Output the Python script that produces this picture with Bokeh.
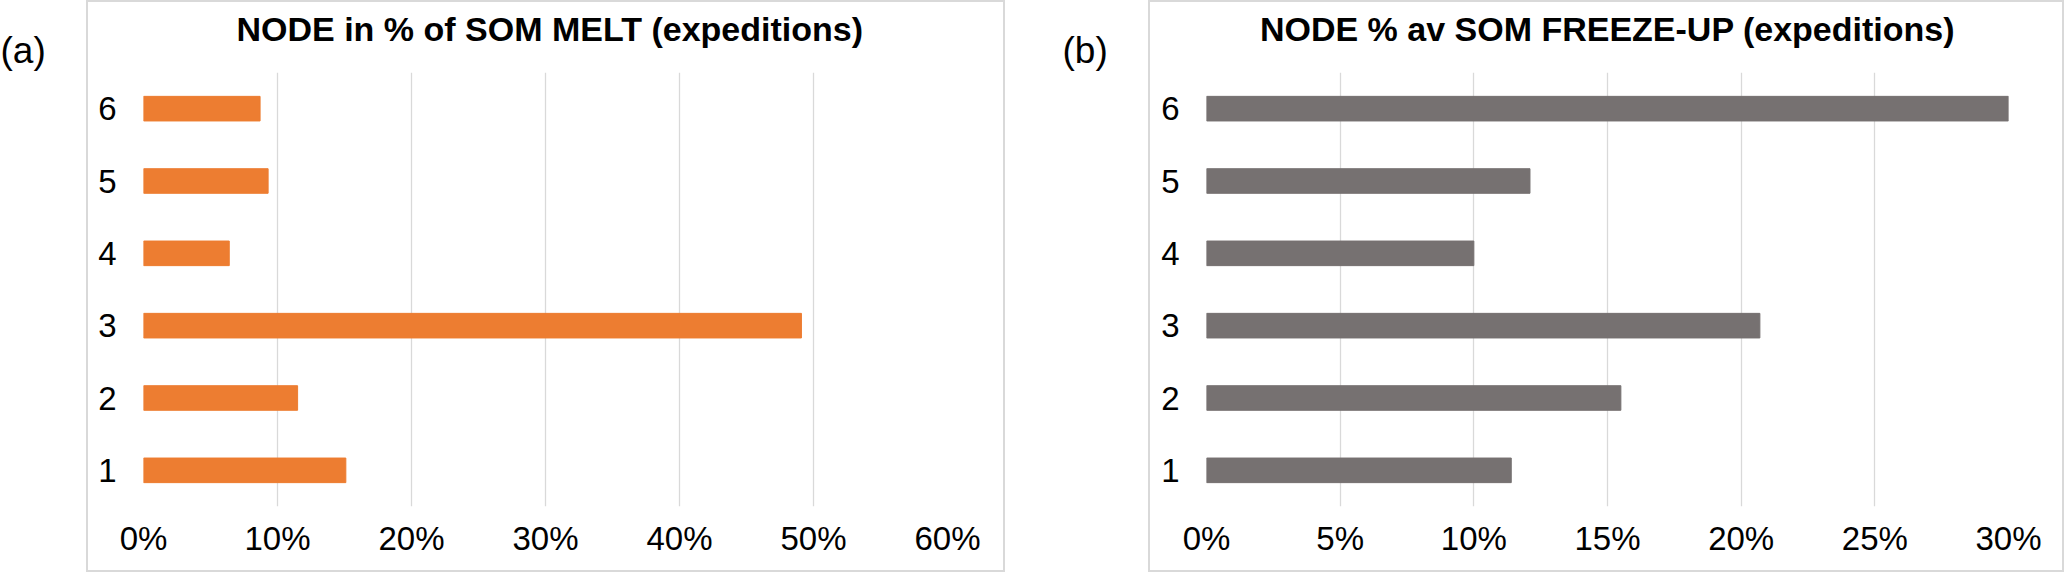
from bokeh.plotting import figure
from bokeh.models import (ColumnDataSource, Range1d, FixedTicker, NumeralTickFormatter,
                          LinearAxis, Title)
from bokeh.layouts import row
from bokeh.embed import file_html
from bokeh.resources import INLINE

# ---- data ----
nodes = ["1", "2", "3", "4", "5", "6"]
melt_share = [0.151, 0.115, 0.491, 0.064, 0.093, 0.087]
freeze_share = [0.114, 0.155, 0.207, 0.100, 0.121, 0.300]
melt_ticks = [0.0, 0.1, 0.2, 0.3, 0.4, 0.5, 0.6]
freeze_ticks = [0.0, 0.05, 0.10, 0.15, 0.20, 0.25, 0.30]
titles = ["NODE in % of  SOM MELT (expeditions)", "NODE % av SOM FREEZE-UP (expeditions)"]
panel_tags = ["(a)", "(b)"]
bar_colors = ["#ED7D31", "#767171"]

FONT = "Liberation Sans"
PH = 568          # panel element height (plus 2px margin each side)
TAG_H = 572
BORDER = "#d9d9d9"


def panel(title, values, ticks, color, width, mb_left, mb_right, title_align, title_dx):
    src = ColumnDataSource(dict(node=nodes, share=values))
    p = figure(width=width, height=PH, y_range=nodes, x_range=Range1d(0, ticks[-1]),
               output_backend="svg", toolbar_location=None,
               min_border_left=mb_left, min_border_right=mb_right,
               min_border_top=70, min_border_bottom=64,
               margin=2, styles={"outline": "2px solid " + BORDER})
    p.hbar(y="node", left=0, right="share", height=0.34, source=src,
           fill_color=color, line_color=color)
    p.outline_line_color = None
    p.background_fill_color = "white"
    p.border_fill_color = "white"

    tk = FixedTicker(ticks=ticks)
    p.xaxis.ticker = tk
    p.xaxis.formatter = NumeralTickFormatter(format="0%")
    p.xaxis.major_label_standoff = 13
    p.yaxis.major_label_standoff = 27
    for ax in (p.xaxis, p.yaxis):
        ax.axis_line_color = None
        ax.major_tick_line_color = None
        ax.minor_tick_line_color = None
        ax.major_tick_out = 0
        ax.major_tick_in = 0
        ax.major_label_text_font = FONT
        ax.major_label_text_font_size = "33px"
        ax.major_label_text_color = "black"

    p.xgrid.ticker = tk
    p.xgrid.grid_line_color = BORDER
    p.xgrid.grid_line_width = 1.3
    p.ygrid.visible = False

    # blank spacer between the frame and the title: one white tick at 0, no label drawn
    spacer = LinearAxis(ticker=FixedTicker(ticks=[0.0]), axis_line_color=None,
                        major_tick_line_color="white", major_tick_line_width=1,
                        minor_tick_line_color=None,
                        major_tick_out=24, major_tick_in=0, minor_tick_out=0,
                        major_label_standoff=0, major_label_text_color=None)
    p.add_layout(spacer, "above")

    t = Title(text=title, text_font=FONT, text_font_size="34px", text_font_style="bold",
              text_color="black", align=title_align, offset=title_dx, standoff=2)
    p.add_layout(t, "above")
    return p


def tag_fig(text, w, dx):
    q = figure(width=w, height=TAG_H, x_range=Range1d(0, 1), y_range=Range1d(0, 1),
               output_backend="svg", toolbar_location=None, min_border=0,
               x_axis_location=None, y_axis_location=None, title=text)
    q.grid.visible = False
    q.outline_line_color = None
    q.title.text_font = FONT
    q.title.text_font_size = "37px"
    q.title.text_font_style = "normal"
    q.title.text_color = "black"
    q.title.align = "left"
    q.title.offset = dx
    q.title.standoff = 0
    return q


ta = tag_fig(panel_tags[0], 86, 0)
pa = panel(titles[0], melt_share, melt_ticks, bar_colors[0], 915, 55, 56, "left", 93)
tb = tag_fig(panel_tags[1], 143, 57)
pb = panel(titles[1], freeze_share, freeze_ticks, bar_colors[1], 912, 56, 54, "center", 0)

layout = row(ta, pa, tb, pb)
open("out.html", "w").write(file_html(layout, INLINE))
